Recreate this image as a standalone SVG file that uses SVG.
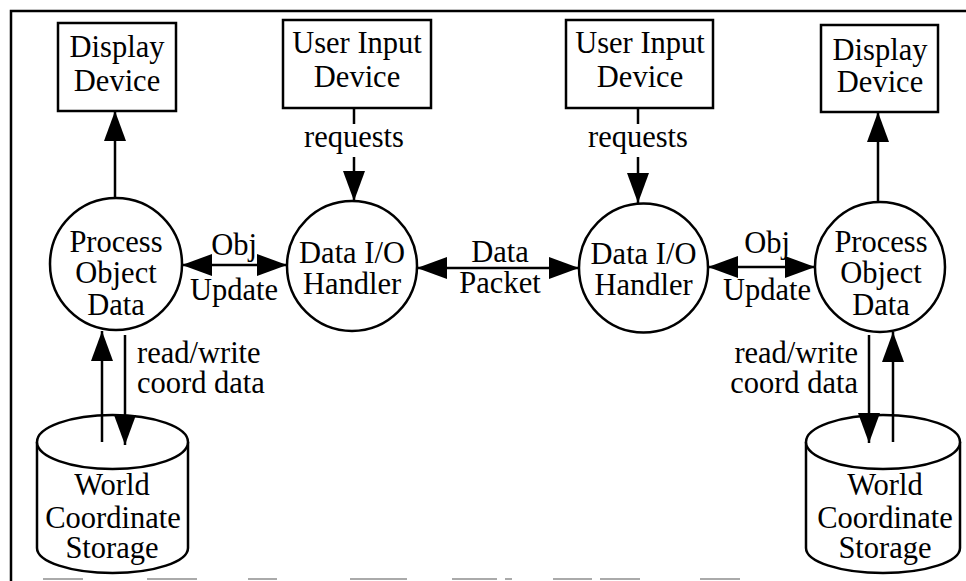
<svg xmlns="http://www.w3.org/2000/svg" width="966" height="581" viewBox="0 0 966 581">
<style>
text{font-family:"Liberation Serif","Times New Roman",serif;font-size:30.5px;fill:#000;text-anchor:middle}
.l{text-anchor:start}
.r{text-anchor:end}
.box{fill:#fff;stroke:#000;stroke-width:2.5}
.shape{fill:#fff;stroke:#000;stroke-width:2.5}
.c{fill:none;stroke:#000;stroke-width:2.5}
.ea{marker-end:url(#ah)}
.ba{marker-start:url(#ah);marker-end:url(#ah)}
.frame{fill:none;stroke:#000;stroke-width:2.5}
.scan{fill:none;stroke:#aaa;stroke-width:2}
</style>
<defs>
<marker id="ah" viewBox="0 0 30 22" refX="30" refY="11" markerWidth="30" markerHeight="22" markerUnits="userSpaceOnUse" orient="auto-start-reverse">
<path d="M0,0 L30,11 L0,22 z" fill="#000"/>
</marker>
</defs>
<rect width="966" height="581" fill="#fff"/>
<g id="frame">
<path class="frame" d="M11,581 L11,11 L966,11"/>
<path class="scan" d="M43,579H83 M147,579H197 M248,579H277 M350,579H407 M452,579H497 M505,579H512 M553,579H592 M600,579H640 M700,579H740"/>
</g>
<g id="display-left">
<rect class="box" x="58" y="23" width="118" height="88"/>
<text x="117" y="57">Display</text>
<text x="117" y="91">Device</text>
</g>
<g id="input-left">
<rect class="box" x="283" y="20" width="148" height="88"/>
<text x="357" y="53">User Input</text>
<text x="357" y="87">Device</text>
</g>
<g id="input-right">
<rect class="box" x="566" y="20" width="147" height="88"/>
<text x="640" y="53">User Input</text>
<text x="640" y="87">Device</text>
</g>
<g id="display-right">
<rect class="box" x="821" y="25" width="117" height="87"/>
<text x="880" y="60">Display</text>
<text x="880" y="92">Device</text>
</g>
<g id="process-left">
<circle class="shape" cx="116" cy="264" r="66"/>
<text x="116" y="252">Process</text>
<text x="116" y="283">Object</text>
<text x="116" y="315">Data</text>
</g>
<g id="handler-left">
<circle class="shape" cx="352" cy="266" r="65"/>
<text x="352" y="263">Data I/O</text>
<text x="352" y="294">Handler</text>
</g>
<g id="handler-right">
<circle class="shape" cx="643.5" cy="268" r="64.5"/>
<text x="643.5" y="264">Data I/O</text>
<text x="643.5" y="295">Handler</text>
</g>
<g id="process-right">
<circle class="shape" cx="880" cy="267" r="65"/>
<text x="881" y="252">Process</text>
<text x="881" y="283">Object</text>
<text x="881" y="315">Data</text>
</g>
<g id="storage-left">
<path class="shape" d="M37,442 L37,548 A75.5,25 0 0 0 188,548 L188,442"/>
<ellipse class="shape" cx="112.5" cy="442" rx="75.5" ry="27"/>
<text x="112" y="495">World</text>
<text x="113" y="528">Coordinate</text>
<text x="112" y="558">Storage</text>
</g>
<g id="storage-right">
<path class="shape" d="M806,442 L806,548 A77,25 0 0 0 960,548 L960,442"/>
<ellipse class="shape" cx="883" cy="442" rx="77" ry="27"/>
<text x="885" y="495">World</text>
<text x="885" y="528">Coordinate</text>
<text x="885" y="558">Storage</text>
</g>
<g id="connectors">
<line class="c ea" x1="115" y1="198" x2="115" y2="111"/>
<line class="c ea" x1="878" y1="202" x2="878" y2="112"/>
<line class="c" x1="354" y1="108" x2="354" y2="124"/>
<line class="c ea" x1="354" y1="157" x2="354" y2="201"/>
<line class="c" x1="638" y1="108" x2="638" y2="124"/>
<line class="c ea" x1="638" y1="157" x2="638" y2="203"/>
<line class="c ba" x1="182" y1="265" x2="287" y2="265"/>
<line class="c ba" x1="417" y1="268" x2="579" y2="268"/>
<line class="c ba" x1="708" y1="267" x2="815" y2="267"/>
<line class="c ea" x1="102" y1="442" x2="102" y2="331"/>
<line class="c ea" x1="125" y1="335" x2="125" y2="445"/>
<line class="c ea" x1="869" y1="335" x2="869" y2="443"/>
<line class="c ea" x1="893" y1="442" x2="893" y2="332"/>
<text x="234" y="255">Obj</text>
<text x="234" y="300">Update</text>
<text x="500" y="262">Data</text>
<text x="500" y="293">Packet</text>
<text x="767" y="253">Obj</text>
<text x="767" y="300">Update</text>
<text x="354" y="147">requests</text>
<text x="638" y="147">requests</text>
<text class="l" x="137" y="363">read/write</text>
<text class="l" x="137" y="393">coord data</text>
<text class="r" x="858" y="363">read/write</text>
<text class="r" x="858" y="393">coord data</text>
</g>
</svg>
